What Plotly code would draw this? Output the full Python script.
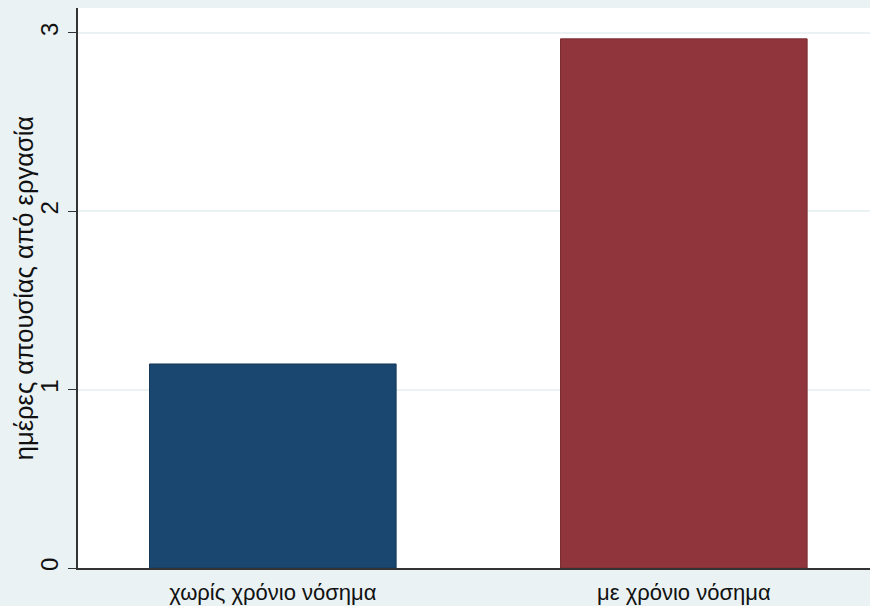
import plotly.graph_objects as go

categories = ["χωρίς χρόνιο νόσημα", "με χρόνιο νόσημα"]
values = [1.144, 2.967]
colors = ["#1A476F", "#90353B"]
y_ticks = [0, 1, 2, 3]
y_title = "ημέρες απουσίας από εργασία"

font = "Liberation Sans, Arial, sans-serif"

fig = go.Figure()
fig.add_trace(go.Bar(
    x=[0, 1], y=values, width=0.6,
    marker=dict(color=colors, line=dict(color=["#16395a", "#7a2c31"], width=1)),
))

fig.update_layout(
    width=870, height=606,
    paper_bgcolor="#EAF2F3", plot_bgcolor="#FFFFFF",
    margin=dict(l=78, r=0, t=8, b=38),
    showlegend=False,
    font=dict(family=font, color="#111111"),
    xaxis=dict(
        range=[-0.474, 1.453], tickmode="array", tickvals=[0, 1], ticktext=categories,
        showgrid=False, zeroline=False, showline=True, linecolor="#333333", linewidth=1.5,
        ticks="", tickfont=dict(size=22, family=font), ticklabelstandoff=4,
    ),
    yaxis=dict(
        range=[0, 3.14], tickmode="array", tickvals=y_ticks,
        ticktext=[str(v) for v in y_ticks], tickangle=-90,
        showgrid=True, gridcolor="#EAF2F3", gridwidth=1.5, zeroline=False,
        showline=True, linecolor="#333333", linewidth=1.5,
        ticks="outside", ticklen=8, tickcolor="#333333",
        tickfont=dict(size=24, family=font), ticklabelstandoff=1,
    ),
    annotations=[dict(
        text=y_title, textangle=-90, xref="paper", yref="paper",
        x=-0.068, y=0.5, xanchor="center", yanchor="middle", showarrow=False,
        font=dict(size=25.5, family=font, color="#111111"),
    )],
)

fig.write_html("out.html", config={"displayModeBar": False},
               post_script="document.body.style.margin='0';document.body.style.overflow='hidden';")
